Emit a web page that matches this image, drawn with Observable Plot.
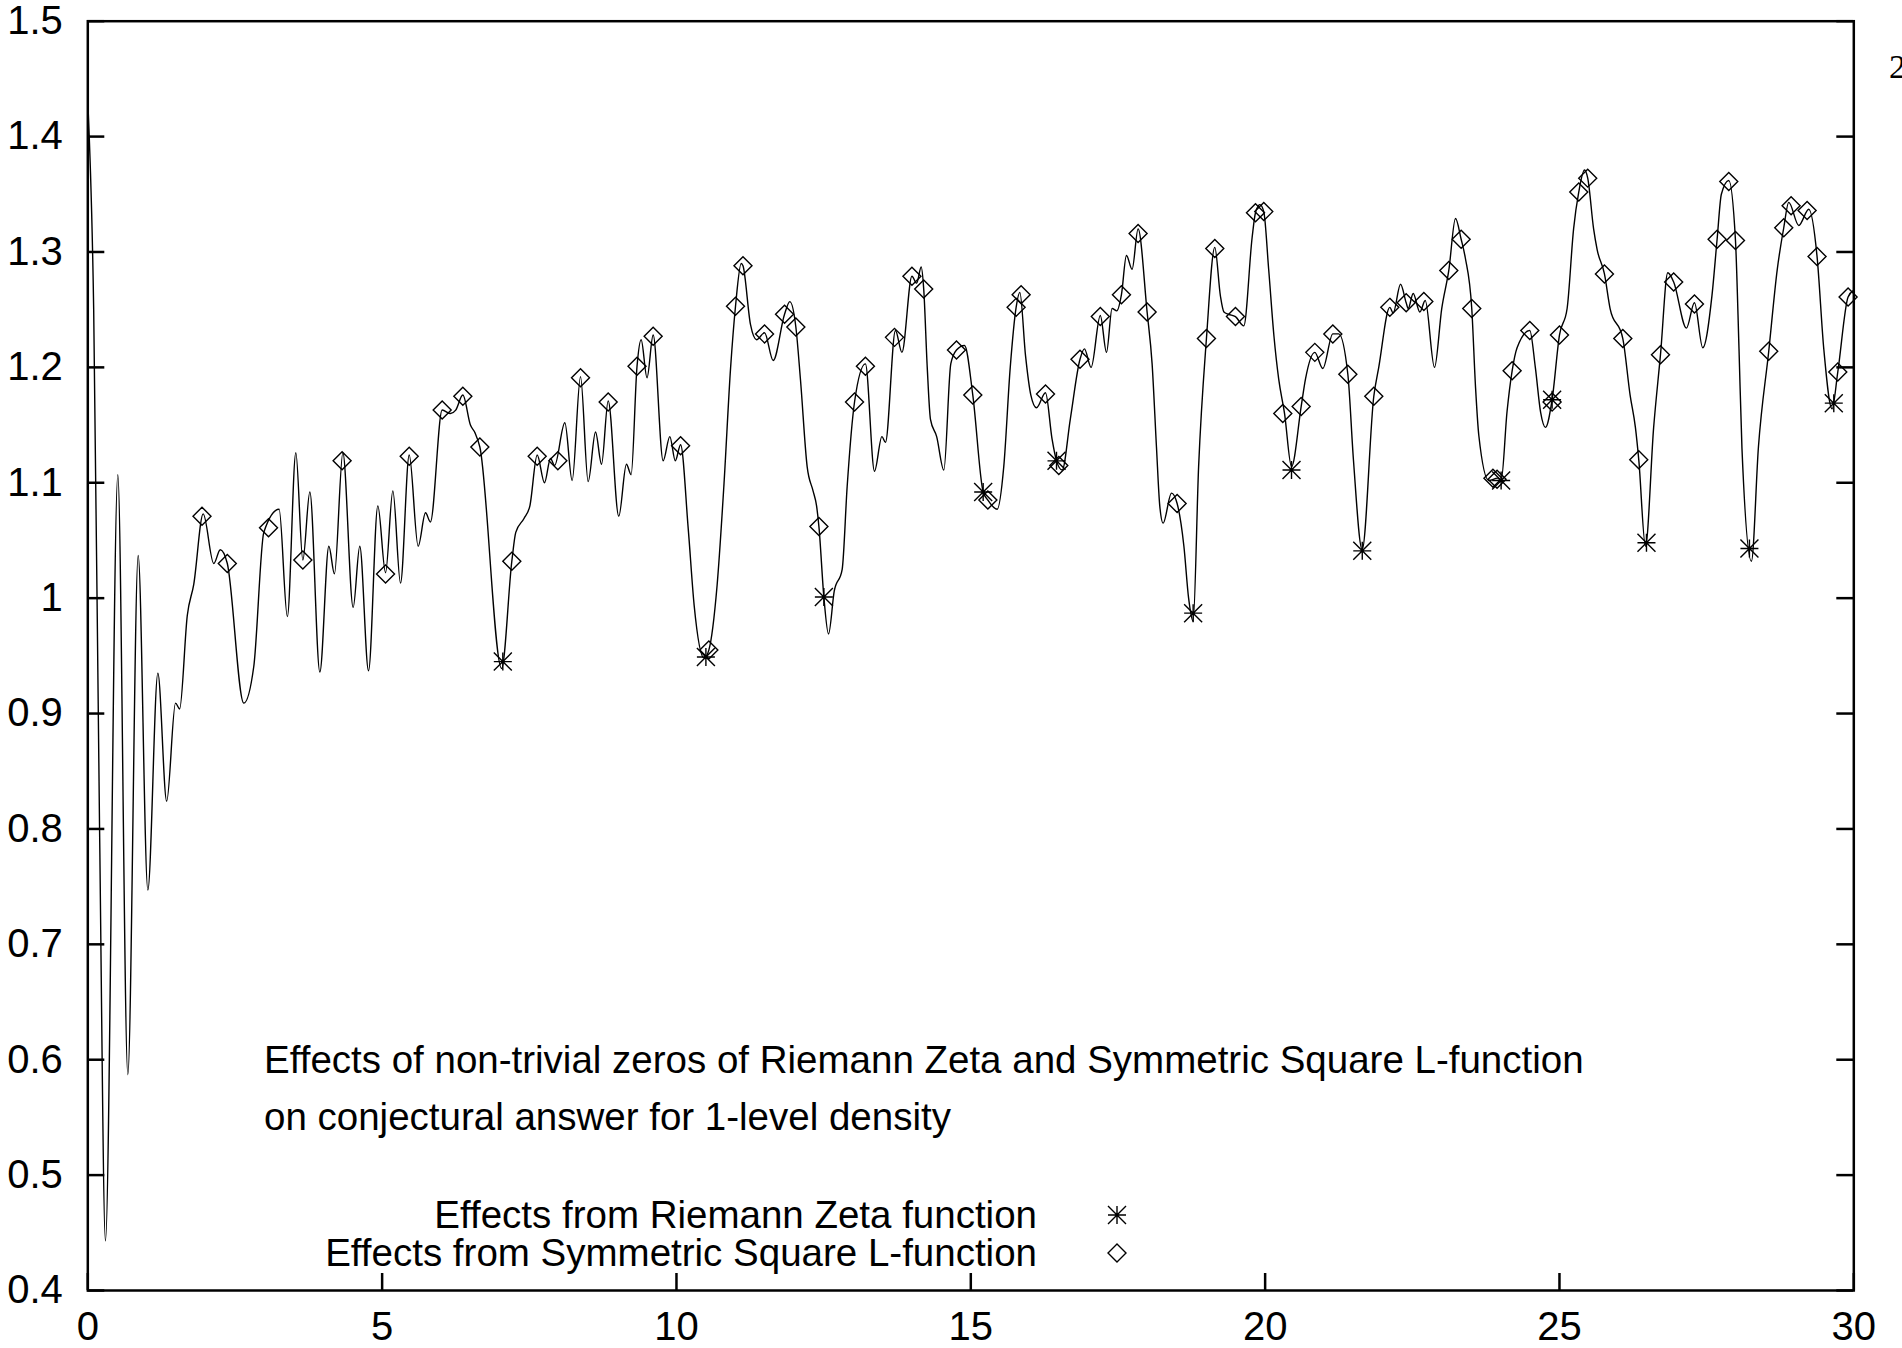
<!DOCTYPE html>
<html>
<head>
<meta charset="utf-8">
<script src="https://cdn.jsdelivr.net/npm/d3@7"></script>
<script src="https://cdn.jsdelivr.net/npm/@observablehq/plot@0.6"></script>
<style>
  html, body { margin: 0; padding: 0; background: #fff; }
  #chart { width: 1902px; height: 1348px; overflow: hidden; }
</style>
</head>
<body>
<div id="chart"></div>
<script>
// 1-level density curve sampled at its turning points, [x, density]
const curvePoints = [
  [0, 1.43], [0.1, 1.25], [0.2, 0.8], [0.30, 0.443], [0.51, 1.107], [0.68, 0.587],
  [0.856, 1.037], [1.02, 0.747], [1.19, 0.935], [1.34, 0.824], [1.49, 0.909], [1.56, 0.904],
  [1.69, 0.985], [1.80, 1.012], [1.96, 1.073], [2.14, 1.03], [2.25, 1.042], [2.37, 1.03],
  [2.65, 0.909], [2.82, 0.941], [2.99, 1.057], [3.25, 1.077], [3.39, 0.984], [3.534, 1.126],
  [3.653, 1.033], [3.772, 1.092], [3.942, 0.936], [4.095, 1.045], [4.19, 1.021], [4.333, 1.126],
  [4.508, 0.992], [4.62, 1.045], [4.769, 0.937], [4.927, 1.08], [5.058, 1.022], [5.182, 1.093],
  [5.312, 1.013], [5.46, 1.124], [5.612, 1.045], [5.737, 1.074], [5.82, 1.066], [6.02, 1.163],
  [6.16, 1.16], [6.25, 1.163], [6.371, 1.176], [6.5, 1.15], [6.58, 1.143], [6.66, 1.131],
  [7.03, 0.939], [7.203, 1.032], [7.27, 1.057], [7.41, 1.069], [7.51, 1.08], [7.634, 1.124],
  [7.758, 1.1], [7.86, 1.121], [7.93, 1.115], [8.104, 1.152], [8.228, 1.102], [8.37, 1.192],
  [8.5, 1.101], [8.625, 1.144], [8.727, 1.116], [8.84, 1.171], [9.02, 1.071], [9.15, 1.116],
  [9.23, 1.107], [9.33, 1.201], [9.40, 1.224], [9.50, 1.191], [9.604, 1.228], [9.774, 1.119],
  [9.887, 1.14], [9.98, 1.119], [10.07, 1.133], [10.2, 1.06], [10.3, 0.994], [10.47, 0.948],
  [10.55, 0.955], [10.69, 1.011], [10.805, 1.097], [10.92, 1.2], [11.003, 1.253], [11.1, 1.29],
  [11.13, 1.288], [11.258, 1.237], [11.36, 1.224], [11.496, 1.23], [11.643, 1.206], [11.836, 1.246],
  [11.926, 1.257], [12.028, 1.235], [12.107, 1.189], [12.22, 1.114], [12.32, 1.093], [12.38, 1.08],
  [12.42, 1.062], [12.504, 1.001], [12.583, 0.969], [12.68, 1.006], [12.815, 1.025], [12.9, 1.097],
  [13.025, 1.17], [13.21, 1.203], [13.364, 1.11], [13.49, 1.14], [13.55, 1.135], [13.72, 1.232],
  [13.83, 1.213], [14.0, 1.279], [14.08, 1.273], [14.157, 1.287], [14.2, 1.268], [14.26, 1.2],
  [14.315, 1.155], [14.42, 1.14], [14.542, 1.111], [14.66, 1.203], [14.757, 1.215], [14.893, 1.219],
  [15.034, 1.176], [15.21, 1.092], [15.29, 1.085], [15.448, 1.077], [15.56, 1.114], [15.67, 1.2],
  [15.77, 1.252], [15.833, 1.265], [15.93, 1.21], [16.02, 1.176], [16.116, 1.165], [16.269, 1.178],
  [16.38, 1.138], [16.456, 1.119], [16.552, 1.111], [16.69, 1.155], [16.855, 1.207], [16.93, 1.216],
  [17.044, 1.2], [17.2, 1.245], [17.305, 1.213], [17.4, 1.251], [17.48, 1.249], [17.559, 1.263],
  [17.644, 1.297], [17.74, 1.285], [17.842, 1.32], [17.995, 1.248], [18.08, 1.203], [18.154, 1.131],
  [18.21, 1.08], [18.267, 1.065], [18.409, 1.091], [18.505, 1.082], [18.62, 1.045], [18.70, 1.0],
  [18.777, 0.98], [18.87, 1.114], [19.003, 1.225], [19.145, 1.304], [19.24, 1.262], [19.3, 1.248],
  [19.38, 1.246], [19.496, 1.244], [19.637, 1.236], [19.78, 1.313], [19.836, 1.334], [19.91, 1.341],
  [19.977, 1.335], [20.06, 1.285], [20.15, 1.227], [20.23, 1.19], [20.33, 1.16], [20.448, 1.114],
  [20.612, 1.166], [20.686, 1.19], [20.844, 1.213], [20.98, 1.199], [21.15, 1.229], [21.25, 1.229],
  [21.405, 1.194], [21.5, 1.12], [21.648, 1.042], [21.846, 1.175], [21.93, 1.2], [22.118, 1.252],
  [22.175, 1.247], [22.3, 1.272], [22.396, 1.256], [22.43, 1.251], [22.515, 1.264], [22.628, 1.248],
  [22.72, 1.258], [22.877, 1.2], [23.0, 1.251], [23.12, 1.284], [23.234, 1.329], [23.33, 1.311],
  [23.40, 1.295], [23.51, 1.251], [23.575, 1.182], [23.63, 1.141], [23.80, 1.102], [23.95, 1.104],
  [24.009, 1.102], [24.11, 1.162], [24.196, 1.197], [24.28, 1.217], [24.496, 1.232], [24.59, 1.2],
  [24.68, 1.161], [24.762, 1.148], [24.875, 1.172], [25.0, 1.228], [25.13, 1.251], [25.24, 1.32],
  [25.328, 1.352], [25.425, 1.371], [25.48, 1.364], [25.58, 1.32], [25.64, 1.302], [25.764, 1.281],
  [25.86, 1.251], [26.076, 1.225], [26.2, 1.176], [26.29, 1.148], [26.347, 1.12], [26.461, 1.045],
  [26.6, 1.148], [26.716, 1.211], [26.84, 1.282], [26.94, 1.274], [27.157, 1.234], [27.293, 1.256],
  [27.434, 1.217], [27.59, 1.262], [27.678, 1.311], [27.75, 1.35], [27.876, 1.362], [27.99, 1.31],
  [28.05, 1.216], [28.1, 1.13], [28.261, 1.032], [28.38, 1.131], [28.555, 1.214], [28.70, 1.285],
  [28.81, 1.321], [28.895, 1.343], [29.065, 1.323], [29.235, 1.337], [29.376, 1.296], [29.49, 1.216],
  [29.631, 1.164], [29.728, 1.196], [29.903, 1.261], [30, 1.267]
];

// Contributions placed at zeros of the Riemann zeta function
const zetaX = [7.05, 10.50, 12.504, 15.21, 16.456, 18.777, 20.448, 21.65, 24.009, 24.875, 26.478, 28.227, 29.66];
const zetaY = [0.945, 0.949, 1.001, 1.092, 1.119, 0.987, 1.111, 1.041, 1.102, 1.172, 1.048, 1.043, 1.169];

// Contributions placed at zeros of the symmetric square L-function
const symX = [
  1.94, 2.37, 3.07, 3.653, 4.32, 5.058, 5.46, 6.02, 6.371, 6.66, 7.203, 7.634, 7.985, 8.37,
  8.84, 9.33, 9.604, 10.07, 10.55, 11.003, 11.13, 11.496, 11.836, 12.028, 12.42, 13.025, 13.21,
  13.704, 14.0, 14.2, 14.757, 15.034, 15.29, 15.77, 15.855, 16.269, 16.495, 16.855, 17.2, 17.559,
  17.842, 17.995, 18.505, 19.003, 19.145, 19.496, 19.836, 19.977, 20.30, 20.612, 20.844, 21.15,
  21.405, 21.846, 22.118, 22.396, 22.696, 23.12, 23.33, 23.51, 23.87, 23.94, 24.196, 24.496,
  24.875, 25.0, 25.328, 25.48, 25.764, 26.076, 26.347, 26.716, 26.94, 27.293, 27.678, 27.876,
  27.99, 28.555, 28.81, 28.935, 29.207, 29.376, 29.728, 29.903
];
const symY = [
  1.071, 1.03, 1.061, 1.033, 1.119, 1.021, 1.123, 1.163, 1.175, 1.131, 1.032, 1.123, 1.119, 1.191,
  1.17, 1.201, 1.227, 1.132, 0.955, 1.253, 1.288, 1.229, 1.246, 1.235, 1.062, 1.17, 1.201,
  1.226, 1.279, 1.268, 1.215, 1.176, 1.085, 1.252, 1.263, 1.177, 1.115, 1.207, 1.244, 1.263,
  1.316, 1.248, 1.082, 1.225, 1.303, 1.244, 1.334, 1.335, 1.16, 1.166, 1.213, 1.229,
  1.194, 1.175, 1.252, 1.256, 1.257, 1.284, 1.311, 1.251, 1.104, 1.103, 1.197, 1.232,
  1.17, 1.228, 1.352, 1.364, 1.281, 1.225, 1.12, 1.211, 1.274, 1.255, 1.311, 1.361,
  1.31, 1.214, 1.321, 1.34, 1.336, 1.296, 1.196, 1.261
];

const xTicks = [0, 5, 10, 15, 20, 25, 30];
const xTickLabels = ["0", "5", "10", "15", "20", "25", "30"];
const yTicks = [0.4, 0.5, 0.6, 0.7, 0.8, 0.9, 1.0, 1.1, 1.2, 1.3, 1.4, 1.5];
const yTickLabels = ["0.4", "0.5", "0.6", "0.7", "0.8", "0.9", "1", "1.1", "1.2", "1.3", "1.4", "1.5"];

const captionLines = [
  "Effects of non-trivial zeros of Riemann Zeta and Symmetric Square L-function",
  "on conjectural answer for 1-level density"
];
const legendLabels = [
  "Effects from Riemann Zeta function",
  "Effects from Symmetric Square L-function"
];
const pageNumber = "2";

// ---- layout ----
const W = 1902, H = 1348;
const mLeft = 87.3, mRight = 48.7, mTop = 20.7, mBottom = 58;
const plotW = W - mLeft - mRight, plotH = H - mTop - mBottom;
const tickLen = 17;
const font = "'Liberation Sans', Arial, Helvetica, sans-serif";
const tickFs = 40;   // axis numbers
const textFs = 38.5; // caption and key

// gnuplot-style point symbols: asterisk (+ and x overlaid) and open diamond
const starSymbol = {
  draw(ctx, size) {
    const r = Math.sqrt(size / Math.PI);
    ctx.moveTo(-r, 0); ctx.lineTo(r, 0);
    ctx.moveTo(0, -r); ctx.lineTo(0, r);
    ctx.moveTo(-r, -r); ctx.lineTo(r, r);
    ctx.moveTo(-r, r); ctx.lineTo(r, -r);
  }
};
const diamondSymbol = {
  draw(ctx, size) {
    const r = Math.sqrt(size / Math.PI);
    ctx.moveTo(0, -r); ctx.lineTo(r, 0); ctx.lineTo(0, r); ctx.lineTo(-r, 0); ctx.closePath();
  }
};

const zeta = zetaX.map((x, i) => ({x, y: zetaY[i]}));
const sym = symX.map((x, i) => ({x, y: symY[i]}));
const xLabel = d => xTickLabels[xTicks.indexOf(d)];
const yLabel = d => yTickLabels[yTicks.indexOf(d)];

const chart = Plot.plot({
  width: W,
  height: H,
  marginLeft: mLeft,
  marginRight: mRight,
  marginTop: mTop,
  marginBottom: mBottom,
  x: {domain: [0, 30], axis: null},
  y: {domain: [0.4, 1.5], axis: null},
  style: {fontFamily: font, fontSize: tickFs + "px", background: "#fff", color: "#000", overflow: "hidden"},
  marks: [
    // inward tick marks on left, right and bottom edges
    Plot.tickY(yTicks, {y: d => d, insetRight: plotW - tickLen, stroke: "#000", strokeWidth: 2.5}),
    Plot.tickY(yTicks, {y: d => d, insetLeft: plotW - tickLen, stroke: "#000", strokeWidth: 2.5}),
    Plot.tickX(xTicks, {x: d => d, insetTop: plotH - tickLen, stroke: "#000", strokeWidth: 2.5}),
    Plot.axisY(yTicks, {anchor: "left", tickSize: 0, tickPadding: 25, tickFormat: yLabel, label: null, fontSize: tickFs}),
    Plot.axisX(xTicks, {anchor: "bottom", tickSize: 0, tickPadding: 21, tickFormat: xLabel, label: null, fontSize: tickFs}),
    // density curve
    Plot.line(curvePoints, {x: d => d[0], y: d => d[1], curve: "monotone-x", stroke: "#000", strokeWidth: 1.4}),
    // zero markers
    Plot.dot(zeta, {x: "x", y: "y", symbol: starSymbol, r: 9, stroke: "#000", strokeWidth: 1.4, fill: "none"}),
    Plot.dot(sym, {x: "x", y: "y", symbol: diamondSymbol, r: 9, stroke: "#000", strokeWidth: 1.4, fill: "none"}),
    Plot.frame({stroke: "#000", strokeWidth: 2.5})
  ]
});

// caption lines, key and page number placed in frame pixel space
const svg = d3.select(chart.tagName.toLowerCase() === "svg" ? chart : chart.querySelector("svg"));
const caption = svg.append("g")
  .attr("font-family", font).attr("font-size", textFs).attr("fill", "#000").attr("text-anchor", "start");
captionLines.forEach((t, i) => {
  caption.append("text").attr("x", 264).attr("y", 1060 + i * 57).attr("dy", "0.35em").text(t);
});
const legend = svg.append("g").attr("font-family", font).attr("font-size", textFs).attr("fill", "#000");
const legendSymbols = [starSymbol, diamondSymbol];
legendLabels.forEach((t, i) => {
  const y = 1215 + i * 38;
  legend.append("text").attr("x", 1037).attr("y", y).attr("dy", "0.35em").attr("text-anchor", "end").text(t);
  legend.append("path")
    .attr("transform", `translate(1117,${y})`)
    .attr("d", d3.symbol(legendSymbols[i], Math.PI * 81)())
    .attr("fill", "none").attr("stroke", "#000").attr("stroke-width", 1.4);
});
svg.append("text").attr("x", 1889).attr("y", 78).attr("text-anchor", "start")
  .attr("font-family", "'Liberation Serif', 'Times New Roman', serif").attr("font-size", 34)
  .attr("fill", "#000").text(pageNumber);

document.getElementById("chart").appendChild(chart);
</script>
</body>
</html>
